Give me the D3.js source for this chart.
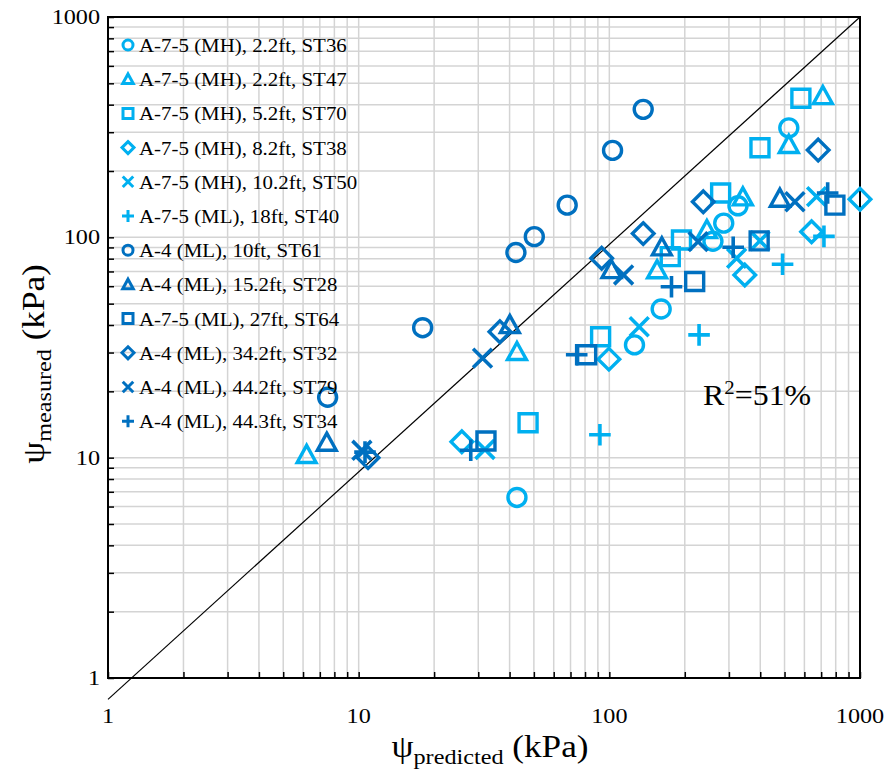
<!DOCTYPE html>
<html>
<head>
<meta charset="utf-8">
<script src="https://cdn.jsdelivr.net/npm/d3@7"></script>
<style>
    body { margin: 0; background: white; }
    svg { display: block; font-family: "Liberation Serif", "DejaVu Serif", serif; }
</style>
</head>
<body>
<svg id="chart" width="890" height="771"></svg>
<script>
// # Data (psi predicted, psi measured) in kPa

var seriesNames = [
    'A-7-5 (MH), 2.2ft, ST36',
    'A-7-5 (MH), 2.2ft, ST47',
    'A-7-5 (MH), 5.2ft, ST70',
    'A-7-5 (MH), 8.2ft, ST38',
    'A-7-5 (MH), 10.2ft, ST50',
    'A-7-5 (ML), 18ft, ST40',
    'A-4 (ML), 10ft, ST61',
    'A-4 (ML), 15.2ft, ST28',
    'A-7-5 (ML), 27ft, ST64',
    'A-4 (ML), 34.2ft, ST32',
    'A-4 (ML), 44.2ft, ST79',
    'A-4 (ML), 44.3ft, ST34'
];

var st36 = [[42.8, 6.6], [126, 32.5], [161, 47.3], [259, 96], [286, 116], [326, 139], [520, 314]];
var st47 = [[6.2, 10.3], [42.8, 30.2], [155, 71], [245, 108], [341, 152], [520, 263], [711, 438]];
var st70 = [[47.4, 14.4], [92.3, 35.4], [175, 81.7], [194, 97.3], [278, 159], [399, 255], [581, 428]];
var st38 = [[25.8, 11.8], [99.6, 28], [347, 67.5], [641, 106], [1000, 149]];
var st50 = [[31.9, 10.9], [131.6, 39.3], [322, 80.4], [399, 96.4], [671, 153]];
var st40 = [[91.7, 12.7], [228, 36.1], [491, 75.5], [718, 101]];
var st61 = [[7.52, 18.8], [18, 38.9], [42.4, 85.3], [50.2, 100.7], [67.9, 140], [103, 248], [136.5, 381]];
var st28 = [[7.46, 11.7], [40.1, 40], [102, 71.1], [162, 90.2], [479, 150]];
var st64 = [[32.2, 11.9], [81.2, 29.3], [219, 63], [396, 96.4], [794, 140]];
var st32 = [[10.9, 10], [36.6, 37.3], [93.2, 80.4], [136.5, 104], [237, 145], [681, 249]];
var st79 = [[10.3, 10.8], [31.2, 28.3], [114, 67.5], [226, 95.6], [550, 145]];
var st34 = [[10.6, 10.6], [28, 10.8], [74.1, 29.3], [177, 59.7], [312, 90.2], [743, 159]];

var seriesData = [st36, st47, st70, st38, st50, st40, st61, st28, st64, st32, st79, st34];

// reference line end points
var refLine = [[1, 0.8], [1000, 1000]];

var decades = [1, 10, 100, 1000];
var r2Label = '51%';

// # Layout

var svg = d3.select('#chart');
var plotLeft = 108, plotRight = 860, plotTop = 17, plotBottom = 678;
var textStretch = 1.1;   // the source font is a bit wider than Liberation Serif

var x = d3.scaleLog().domain([1, 1000]).range([plotLeft, plotRight]);
var y = d3.scaleLog().domain([1, 1000]).range([plotBottom, plotTop]);

var lightBlue = '#00b0f0';
var darkBlue = '#0070c0';
var shapes = ['circle', 'triangle', 'square', 'diamond', 'cross', 'plus'];

function allTicks(){
    var t = [];
    for (var d = 1; d < 1000; d *= 10){
        for (var k = 1; k < 10; k++){
            t.push(d * k);
        }
    }
    t.push(1000);
    return t;
}

function markerPath(shape, s){
    // s: half size of the marker in px
    var p = d3.path();
    if (shape == 'circle'){
        p.arc(0, 0, s, 0, 2 * Math.PI);
    } else if (shape == 'triangle'){
        p.moveTo(0, -s * 1.05);
        p.lineTo(s * 1.05, s * 0.85);
        p.lineTo(-s * 1.05, s * 0.85);
        p.closePath();
    } else if (shape == 'square'){
        p.rect(-s, -s, 2 * s, 2 * s);
    } else if (shape == 'diamond'){
        var d = s * 1.2;
        p.moveTo(0, -d);
        p.lineTo(d, 0);
        p.lineTo(0, d);
        p.lineTo(-d, 0);
        p.closePath();
    } else if (shape == 'cross'){
        var c = s * 1.05;
        p.moveTo(-c, -c); p.lineTo(c, c);
        p.moveTo(c, -c); p.lineTo(-c, c);
    } else {
        var q = s * 1.2;
        p.moveTo(-q, 0); p.lineTo(q, 0);
        p.moveTo(0, -q); p.lineTo(0, q);
    }
    return p.toString();
}

function stretched(parent, tx, ty, rot){
    var tr = 'translate(' + tx + ',' + ty + ')';
    if (rot) tr += ' rotate(' + rot + ')';
    return parent.append('text').attr('transform', tr + ' scale(' + textStretch + ',1)');
}

// # Grid

var ticks = allTicks();
var grid = svg.append('g');

grid.selectAll('line.gx').data(ticks).enter().append('line')
    .attr('x1', d => x(d)).attr('x2', d => x(d))
    .attr('y1', plotTop).attr('y2', plotBottom)
    .attr('stroke', '#d4d4d4').attr('stroke-width', 1.5);

grid.selectAll('line.gy').data(ticks).enter().append('line')
    .attr('x1', plotLeft).attr('x2', plotRight)
    .attr('y1', d => y(d)).attr('y2', d => y(d))
    .attr('stroke', '#d4d4d4').attr('stroke-width', 1.5);

// # Axes (inward ticks, labels drawn separately)

svg.append('g')
    .attr('transform', 'translate(0,' + plotBottom + ')')
    .call(d3.axisBottom(x).tickValues(ticks).tickSize(-6).tickSizeOuter(0).tickFormat(''))
    .call(g => g.select('.domain').remove())
    .selectAll('line').attr('stroke', 'black').attr('stroke-width', 1.5);

svg.append('g')
    .attr('transform', 'translate(' + plotLeft + ',0)')
    .call(d3.axisLeft(y).tickValues(ticks).tickSize(-6).tickSizeOuter(0).tickFormat(''))
    .call(g => g.select('.domain').remove())
    .selectAll('line').attr('stroke', 'black').attr('stroke-width', 1.5);

svg.append('rect')
    .attr('x', plotLeft).attr('y', plotTop)
    .attr('width', plotRight - plotLeft).attr('height', plotBottom - plotTop)
    .attr('fill', 'none').attr('stroke', 'black').attr('stroke-width', 2);

decades.forEach(function(d){
    stretched(svg, x(d), plotBottom + 45, 0)
        .attr('text-anchor', 'middle').attr('font-size', 22).text(d);
    stretched(svg, plotLeft - 8, y(d) + 7, 0)
        .attr('text-anchor', 'end').attr('font-size', 22).text(d);
});

// # Reference line

svg.append('path')
    .attr('d', d3.line().x(d => x(d[0])).y(d => y(d[1]))(refLine))
    .attr('fill', 'none').attr('stroke', 'black').attr('stroke-width', 1.2);

// # Points

seriesData.forEach(function(pts, i){
    var color = i < 6 ? lightBlue : darkBlue;
    var shape = shapes[i % 6];
    svg.append('g').selectAll('path').data(pts).enter().append('path')
        .attr('transform', d => 'translate(' + x(d[0]) + ',' + y(d[1]) + ')')
        .attr('d', markerPath(shape, 9))
        .attr('fill', 'none')
        .attr('stroke', color)
        .attr('stroke-width', shape == 'cross' || shape == 'plus' ? 3.6 : 3.4);
});

// # Legend

var legend = svg.append('g');
seriesNames.forEach(function(name, i){
    var cy = 45 + i * 34.2;
    var shape = shapes[i % 6];
    legend.append('path')
        .attr('transform', 'translate(128,' + cy + ')')
        .attr('d', markerPath(shape, 5))
        .attr('fill', 'none')
        .attr('stroke', i < 6 ? lightBlue : darkBlue)
        .attr('stroke-width', 3);
    stretched(legend, 139, cy + 7, 0)
        .attr('font-size', 19).text(name);
});

// # Titles

var xt = stretched(svg, 490, 757, 0).attr('text-anchor', 'middle').attr('font-size', 32);
xt.append('tspan').text('ψ');
xt.append('tspan').attr('font-size', 22).attr('dy', 7).text('predicted');
xt.append('tspan').attr('dy', -7).text(' (kPa)');

var yt = stretched(svg, 44, 364, -90).attr('text-anchor', 'middle').attr('font-size', 32);
yt.append('tspan').text('ψ');
yt.append('tspan').attr('font-size', 22).attr('dy', 7).text('measured');
yt.append('tspan').attr('dy', -7).text(' (kPa)');

var r2 = stretched(svg, 703, 405, 0).attr('font-size', 29);
r2.append('tspan').text('R');
r2.append('tspan').attr('font-size', 19).attr('dy', -11).text('2');
r2.append('tspan').attr('dy', 11).text('=' + r2Label);
</script>
</body>
</html>
